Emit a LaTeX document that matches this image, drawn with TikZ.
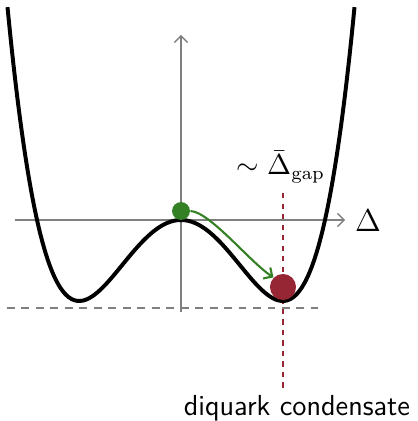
\documentclass[tikz,border=0pt]{standalone}
\usepackage{amsmath,amssymb}
\usepackage{xcolor}
\usetikzlibrary{arrows.meta}
\usetikzlibrary{positioning}

\definecolor{dotgreen}{RGB}{52,128,36}
\definecolor{dotred}{RGB}{150,38,52}

\begin{document}
\begin{tikzpicture}[
  x=0.38pt, y=0.38pt,
  axis/.style={gray, line width=0.5pt, -{Straight Barb[length=2.5pt,width=5pt]}},
  pot/.style={black, line width=1.5pt},
  ball/.style={circle, inner sep=0pt},
  every node/.style={font=\normalsize}
]
\useasboundingbox (-181,-201) rectangle (236,220);

% axes
\coordinate (xl) at (-166,0);
\coordinate (xr) at (164,0);
\coordinate (yb) at (0,-92);
\coordinate (yt) at (0,185);
\draw[axis] (xl) -- (xr);
\draw[axis] (yb) -- (yt);
\node[font=\large] (dlab) at (187,-1) {$\Delta$};

% minimum level and condensate position
\coordinate (ml) at (-174,-88);
\coordinate (mr) at (137,-88);
\draw[gray, line width=0.8pt, dash pattern=on 3pt off 2.5pt] (ml) -- (mr);
\coordinate (ct) at (102,27);
\coordinate (cb) at (102,-170);
\draw[dotred, line width=0.8pt, dash pattern=on 2pt off 2pt] (ct) -- (cb);

% potential
\draw[pot] plot[domain=-173.5:173.5, samples=120, smooth]
  (\x, {81*((\x/101.8)^4 - 2*(\x/101.8)^2)});

% balls
\node[ball, fill=dotgreen, minimum size=6.8pt] (top) at (0,9) {};
\node[ball, fill=dotred, minimum size=9.9pt] (bot) at (102,-67) {};
\draw[dotgreen, line width=0.8pt, -{Straight Barb[length=2.5pt,width=5pt]}]
  (top.east) .. controls (29,8) and (69,-42) .. (bot.north west);

% labels
\node[font=\fontsize{10.5}{12}\selectfont] (gap) at (100,53) {$\sim\bar{\Delta}_{\mathrm{gap}}$};
\node[font=\fontsize{11}{13}\selectfont\sffamily] (cond) at (116,-188) {diquark condensate};
\end{tikzpicture}
\end{document}
